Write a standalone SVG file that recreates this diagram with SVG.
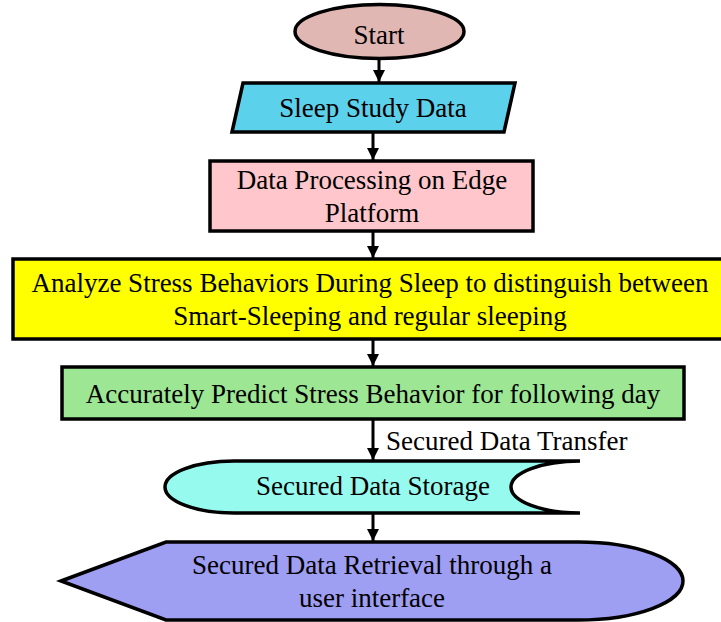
<svg xmlns="http://www.w3.org/2000/svg" width="721" height="622" viewBox="0 0 721 622">
<defs>
<style>
.s{stroke:#000;stroke-width:3.5;stroke-linejoin:miter}
.t{font-family:"Liberation Serif","Times New Roman",serif;font-size:27px;fill:#000;text-anchor:middle}
.c{stroke:#000;stroke-width:3;fill:none}
</style>
<marker id="ah" viewBox="0 0 10 10" refX="10" refY="5" markerWidth="4" markerHeight="4" markerUnits="strokeWidth" orient="auto">
<path d="M0,0 L10,5 L0,10 Z" fill="#000"/>
</marker>
</defs>
<rect width="721" height="622" fill="#fff"/>
<g id="connectors">
<line class="c" x1="379" y1="59" x2="379" y2="82" marker-end="url(#ah)"/>
<line class="c" x1="373" y1="132" x2="373" y2="160" marker-end="url(#ah)"/>
<line class="c" x1="373" y1="231" x2="373" y2="258" marker-end="url(#ah)"/>
<line class="c" x1="373" y1="339" x2="373" y2="366" marker-end="url(#ah)"/>
<line class="c" x1="373" y1="419" x2="373" y2="460" marker-end="url(#ah)"/>
<line class="c" x1="373" y1="513" x2="373" y2="541" marker-end="url(#ah)"/>
<text class="t" x="386" y="450" style="text-anchor:start">Secured Data Transfer</text>
</g>
<g id="start">
<ellipse class="s" cx="379.5" cy="31.5" rx="84.5" ry="27" fill="#E0B7B3"/>
<text class="t" x="379" y="44">Start</text>
</g>
<g id="sleep-data">
<polygon class="s" points="243,83 515,83 504,132 232,132" fill="#5CD1EB"/>
<text class="t" x="373" y="117">Sleep Study Data</text>
</g>
<g id="processing">
<rect class="s" x="210" y="161" width="323" height="70" fill="#FFC6CB"/>
<text class="t" x="372" y="189">Data Processing on Edge</text>
<text class="t" x="372" y="222">Platform</text>
</g>
<g id="analyze">
<rect class="s" x="13" y="259" width="720" height="80" fill="#FFFF00"/>
<text class="t" x="370" y="292">Analyze Stress Behaviors During Sleep to distinguish between</text>
<text class="t" x="370" y="325">Smart-Sleeping and regular sleeping</text>
</g>
<g id="predict">
<rect class="s" x="62" y="367" width="622" height="52" fill="#9CE694"/>
<text class="t" x="373" y="403">Accurately Predict Stress Behavior for following day</text>
</g>
<g id="storage">
<path class="s" d="M234,461 L580,461 A69,26 0 0,0 580,513 L234,513 A69,26 0 0,1 234,461 Z" fill="#96FBEE"/>
<text class="t" x="373" y="495">Secured Data Storage</text>
</g>
<g id="retrieval">
<path class="s" d="M61,581 L166,542 L578,542 A105,39 0 0,1 578,620 L166,620 Z" fill="#9E9EF3"/>
<text class="t" x="372" y="574">Secured Data Retrieval through a</text>
<text class="t" x="372" y="607">user interface</text>
</g>
</svg>
